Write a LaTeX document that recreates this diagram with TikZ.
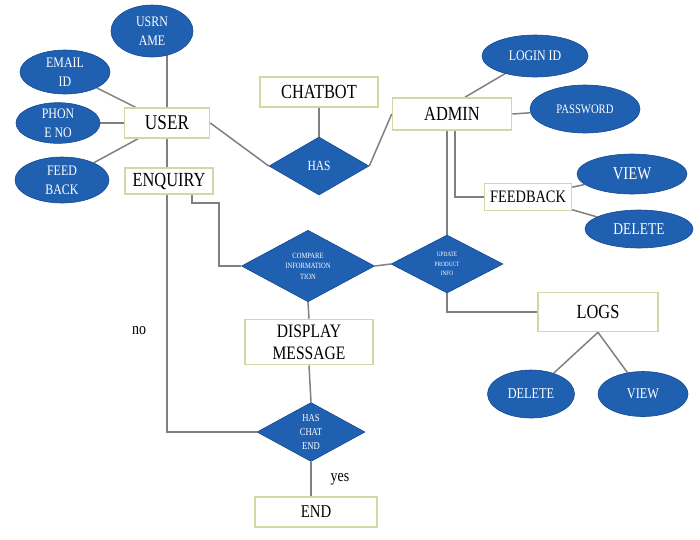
\documentclass[tikz,border=0pt]{standalone}
\usepackage{fontspec}
\setmainfont{Liberation Serif}[FakeStretch=0.82]
\usetikzlibrary{shapes.geometric,backgrounds}
\definecolor{erblue}{RGB}{32,96,176}
\definecolor{erbluedark}{RGB}{22,72,145}
\definecolor{boxline}{RGB}{212,214,164}
\definecolor{conn}{RGB}{128,128,128}
\tikzset{
  ent/.style={draw=boxline, line width=1.6pt, fill=white, rectangle, inner sep=0pt,
    align=center, font=\fontsize{20}{22}\selectfont},
  attr/.style={ellipse, fill=erblue, draw=erbluedark, line width=0.6pt, inner sep=0pt,
    text=white, align=center, font=\fontsize{14.5}{19}\selectfont},
  rel/.style={diamond, fill=erblue, draw=erbluedark, line width=0.6pt, inner sep=0pt,
    text=white, align=center},
  link/.style={draw=conn, line width=1.5pt},
  lbl/.style={font=\fontsize{17}{18}\selectfont, inner sep=0pt}
}
\begin{document}
\begin{tikzpicture}[x=1pt,y=-1pt]
\useasboundingbox (0,0) rectangle (700,539);
% attributes of USER
\node[attr, minimum width=82pt, minimum height=52pt] (usrname) at (152,31) {USRN\\AME};
\node[attr, minimum width=90pt, minimum height=44pt] (email) at (65,72) {EMAIL\\ID};
\node[attr, minimum width=84pt, minimum height=40pt] (phone) at (58,123) {PHON\\E NO};
\node[attr, minimum width=94pt, minimum height=46pt] (feedb) at (62,180) {FEED\\BACK};
% entities
\node[ent, minimum width=85pt, minimum height=30pt, font=\fontsize{21}{22}\selectfont] (user) at (167,123) {USER};
\node[ent, minimum width=88pt, minimum height=26pt] (enquiry) at (169,181) {ENQUIRY};
\node[ent, minimum width=118pt, minimum height=30pt] (chatbot) at (319,92) {CHATBOT};
\node[ent, minimum width=119pt, minimum height=32pt] (admin) at (452,114) {ADMIN};
\node[ent, minimum width=87pt, minimum height=27pt, font=\fontsize{17.5}{19}\selectfont] (fbox) at (528,197) {FEEDBACK};
\node[ent, minimum width=120pt, minimum height=39pt] (logs) at (598,312) {LOGS};
\node[ent, minimum width=128pt, minimum height=45pt, font=\fontsize{19}{22}\selectfont] (display) at (309,342) {DISPLAY\\MESSAGE};
\node[ent, minimum width=122pt, minimum height=30pt, font=\fontsize{18}{20}\selectfont] (end) at (316,512) {END};
% relationships
\node[rel, minimum width=100pt, minimum height=58pt, font=\fontsize{14}{15}\selectfont] (has) at (319,166) {HAS};
\node[rel, minimum width=133pt, minimum height=58pt, font=\fontsize{8}{10.5}\selectfont] (compare) at (308,266) {COMPARE\\INFORMATION\\TION};
\node[rel, minimum width=112pt, minimum height=58pt, font=\fontsize{6.5}{9.5}\selectfont] (update) at (447,264) {UPDATE\\PRODUCT\\INFO};
\node[rel, minimum width=108pt, minimum height=59pt, font=\fontsize{10.5}{14}\selectfont] (haschat) at (311,432) {HAS\\CHAT\\END};
% attributes of ADMIN, FEEDBACK, LOGS
\node[attr, minimum width=106pt, minimum height=42pt, font=\fontsize{14.5}{16}\selectfont] (login) at (535,56) {LOGIN ID};
\node[attr, minimum width=110pt, minimum height=48pt, font=\fontsize{13}{15}\selectfont] (password) at (585,109) {PASSWORD};
\node[attr, minimum width=110pt, minimum height=40pt, font=\fontsize{18}{20}\selectfont] (viewa) at (632,174) {VIEW};
\node[attr, minimum width=108pt, minimum height=38pt, font=\fontsize{16.5}{18}\selectfont] (deletea) at (639,229) {DELETE};
\node[attr, minimum width=87pt, minimum height=48pt, font=\fontsize{15}{17}\selectfont] (deleteb) at (531,394) {DELETE};
\node[attr, minimum width=90pt, minimum height=45pt, font=\fontsize{15}{17}\selectfont] (viewb) at (643,394) {VIEW};
% labels
\node[lbl] (no) at (139,331) {no};
\node[lbl] (yes) at (340,479) {yes};
% connectors
\begin{scope}[on background layer]
\draw[link] (user.north) -- (user.north |- usrname.center);
\draw[link] (email) -- (user);
\draw[link] (phone) -- (user);
\draw[link] (feedb) -- (user);
\draw[link] (user.south) -- (user.south |- enquiry.north);
\draw[link] (user.east) -- (has.west);
\draw[link] (chatbot) -- (has);
\draw[link] (has.east) -- (admin.west);
\draw[link] ([xshift=13pt]admin.north) -- (login);
\draw[link] (admin.east) -- (password);
\draw[link] ([xshift=3pt]admin.south) |- (fbox.west);
\draw[link] (fbox) -- (viewa);
\draw[link] (fbox) -- (deletea);
\draw[link] (update.north |- admin.south) -- (update.north);
\draw[link] ([xshift=-22pt]enquiry.south east) -- ++(0,8) -- ++(27,0) |- (compare.west);
\draw[link] (compare.east) -- (update.west);
\draw[link] (update.south) |- (logs.west);
\draw[link] (logs.south) -- (deleteb);
\draw[link] (logs.south) -- (viewb);
\draw[link] (compare.south) -- (display.north);
\draw[link] (display.south) -- (haschat.north);
\draw[link] (user.south |- enquiry.south) |- (haschat.west);
\draw[link] (haschat.south) -- (haschat.south |- end.north);
\end{scope}
\end{tikzpicture}
\end{document}
